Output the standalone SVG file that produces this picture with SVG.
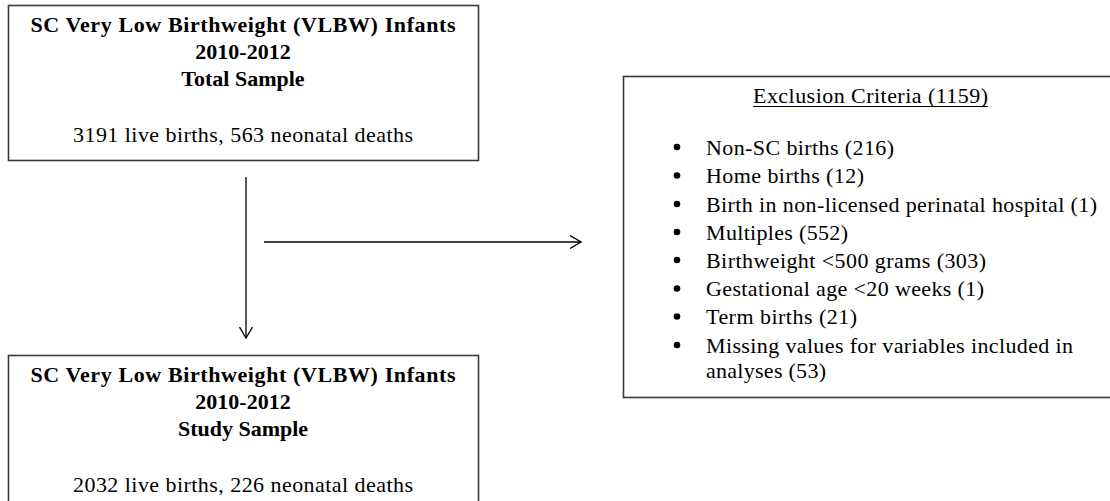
<svg xmlns="http://www.w3.org/2000/svg" width="1110" height="501" viewBox="0 0 1110 501">
<defs>
<style>
.box{fill:#fff;stroke:#3a3a3a;stroke-width:1.6}
.b{font-family:"Liberation Serif","Times New Roman",serif;font-weight:bold;font-size:22px;fill:#000}
.r{font-family:"Liberation Serif","Times New Roman",serif;font-size:22px;fill:#000}
.c{text-anchor:middle}
.ln{stroke:#000;stroke-width:1.3;fill:none}
</style>
<marker id="chev" viewBox="0 0 12 14" refX="11" refY="7" markerWidth="12" markerHeight="14" markerUnits="userSpaceOnUse" orient="auto">
<path d="M0,0.5 L11,7 L0,13.5" fill="none" stroke="#000" stroke-width="1.3"/>
</marker>
</defs>
<rect width="1110" height="501" fill="#fff"/>
<g id="total-sample">
<rect class="box" x="8.5" y="5.5" width="470" height="155"/>
<text class="b c" x="243" y="32" textLength="425" lengthAdjust="spacing">SC Very Low Birthweight (VLBW) Infants</text>
<text class="b c" x="243" y="59">2010-2012</text>
<text class="b c" x="243" y="86">Total Sample</text>
<text class="r c" x="243" y="142" textLength="340" lengthAdjust="spacing">3191 live births, 563 neonatal deaths</text>
</g>
<g id="study-sample">
<rect class="box" x="8.5" y="355.5" width="470" height="160"/>
<text class="b c" x="243" y="382" textLength="425" lengthAdjust="spacing">SC Very Low Birthweight (VLBW) Infants</text>
<text class="b c" x="243" y="409">2010-2012</text>
<text class="b c" x="243" y="436">Study Sample</text>
<text class="r c" x="243" y="492" textLength="340" lengthAdjust="spacing">2032 live births, 226 neonatal deaths</text>
</g>
<g id="exclusion-criteria">
<rect class="box" x="623.5" y="76.5" width="500" height="321"/>
<text class="r c" x="870.5" y="103" textLength="235" lengthAdjust="spacing">Exclusion Criteria (1159)</text>
<line x1="753" y1="106.5" x2="988" y2="106.5" stroke="#000" stroke-width="1"/>
<g fill="#000">
<circle cx="677" cy="147" r="3.3"/>
<circle cx="677" cy="175.5" r="3.3"/>
<circle cx="677" cy="204" r="3.3"/>
<circle cx="677" cy="232" r="3.3"/>
<circle cx="677" cy="260" r="3.3"/>
<circle cx="677" cy="288.5" r="3.3"/>
<circle cx="677" cy="316.5" r="3.3"/>
<circle cx="677" cy="345" r="3.3"/>
</g>
<text class="r" x="706" y="155" textLength="188" lengthAdjust="spacing">Non-SC births (216)</text>
<text class="r" x="706" y="183" textLength="158" lengthAdjust="spacing">Home births (12)</text>
<text class="r" x="706" y="211.5" textLength="391" lengthAdjust="spacing">Birth in non-licensed perinatal hospital (1)</text>
<text class="r" x="706" y="240" textLength="142" lengthAdjust="spacing">Multiples (552)</text>
<text class="r" x="706" y="267.5" textLength="280" lengthAdjust="spacing">Birthweight &lt;500 grams (303)</text>
<text class="r" x="706" y="296" textLength="278" lengthAdjust="spacing">Gestational age &lt;20 weeks (1)</text>
<text class="r" x="706" y="324" textLength="151" lengthAdjust="spacing">Term births (21)</text>
<text class="r" x="706" y="352.5" textLength="367" lengthAdjust="spacing">Missing values for variables included in</text>
<text class="r" x="706" y="378" textLength="120" lengthAdjust="spacing">analyses (53)</text>
</g>
<g id="connectors">
<line class="ln" x1="246" y1="177" x2="246" y2="338" marker-end="url(#chev)"/>
<line class="ln" x1="264" y1="242" x2="581" y2="242" marker-end="url(#chev)"/>
</g>
</svg>
